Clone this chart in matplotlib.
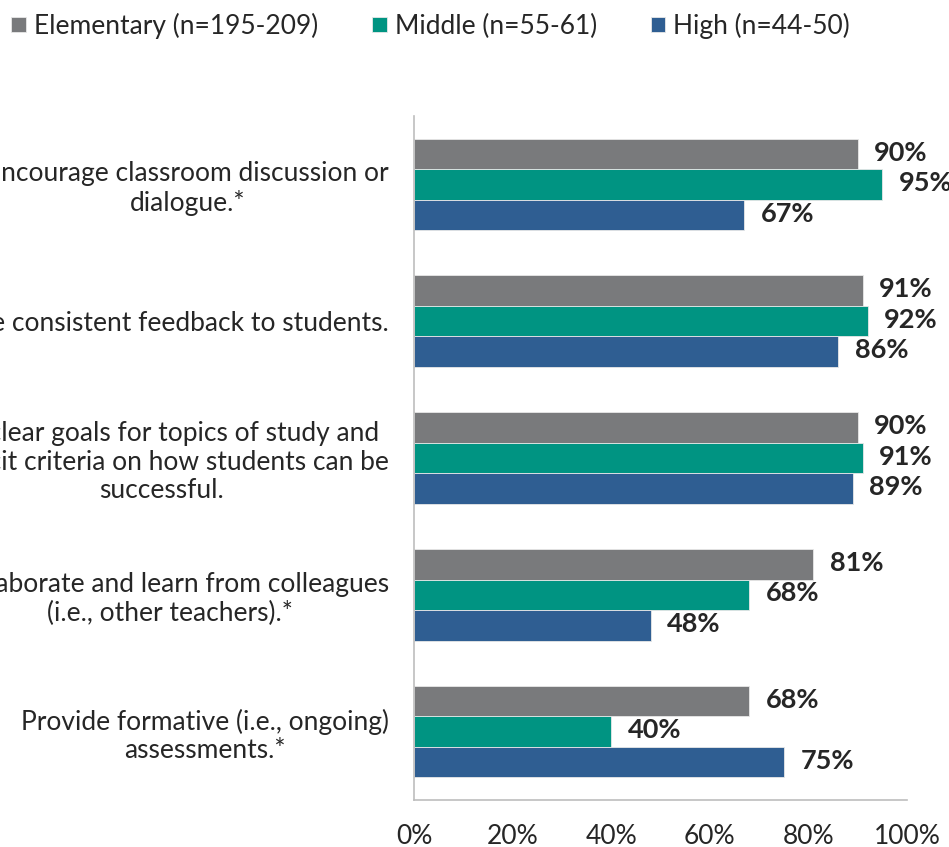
import matplotlib.pyplot as plt
import matplotlib.ticker as mticker
import numpy as np

plt.rcParams['font.family'] = ['Lato', 'DejaVu Sans']

# Data
categories = ['Encourage classroom discussion or\ndialogue.*',
              'Provide consistent feedback to students.',
              'Set clear goals for topics of study and\nexplicit criteria on how students can be\nsuccessful.',
              'Collaborate and learn from colleagues\n(i.e., other teachers).*',
              'Provide formative (i.e., ongoing)\nassessments.*']
series_names = ['Elementary (n=195-209)', 'Middle (n=55-61)', 'High (n=44-50)']
elementary = [90, 91, 90, 81, 68]
middle = [95, 92, 91, 68, 40]
high = [67, 86, 89, 48, 75]

colors = ['#797a7c', '#009482', '#2f5e92']
text_color = '#262626'

fig = plt.figure(figsize=(9.49, 8.47), dpi=100)
ax = fig.add_axes([0.4363, 0.0555, 0.5194, 0.8075])

y = np.arange(len(categories))
h = 0.223
bars = []
for i, (vals, name, c) in enumerate(zip([elementary, middle, high], series_names, colors)):
    b = ax.barh(y + (i - 1) * h, vals, height=h, color=c, edgecolor='#e8e8e8',
                linewidth=0.6, label=name)
    bars.append(b)
    for yy, v in zip(y + (i - 1) * h, vals):
        ax.annotate(f'{v}%', (v, yy), xytext=(12, 1), textcoords='offset points',
                    ha='left', va='center', fontsize=19.5, fontweight='bold',
                    color=text_color)

ax.set_xlim(0, 100)
ax.set_ylim(len(categories) - 0.5, -0.5)
ax.set_yticks(y)
ax.set_yticklabels(categories, fontsize=19, color=text_color, ha='right',
                   multialignment='center', linespacing=1.18)
ax.xaxis.set_major_locator(mticker.MultipleLocator(20))
ax.xaxis.set_major_formatter(mticker.PercentFormatter(decimals=0))
ax.tick_params(axis='x', length=0, pad=17, labelsize=19, labelcolor=text_color)
ax.tick_params(axis='y', length=0, pad=18)

for s in ['top', 'right']:
    ax.spines[s].set_visible(False)
for s in ['left', 'bottom']:
    ax.spines[s].set_color('#bdbdbd')
    ax.spines[s].set_linewidth(1.2)

fig.legend(handles=bars, labels=series_names, loc='upper left',
           bbox_to_anchor=(-0.013, 1.013), ncol=3, frameon=False, fontsize=19,
           handlelength=0.55, handleheight=0.55, handletextpad=0.3,
           columnspacing=2.05, labelcolor=text_color)

fig.savefig('out.png', dpi=100)
